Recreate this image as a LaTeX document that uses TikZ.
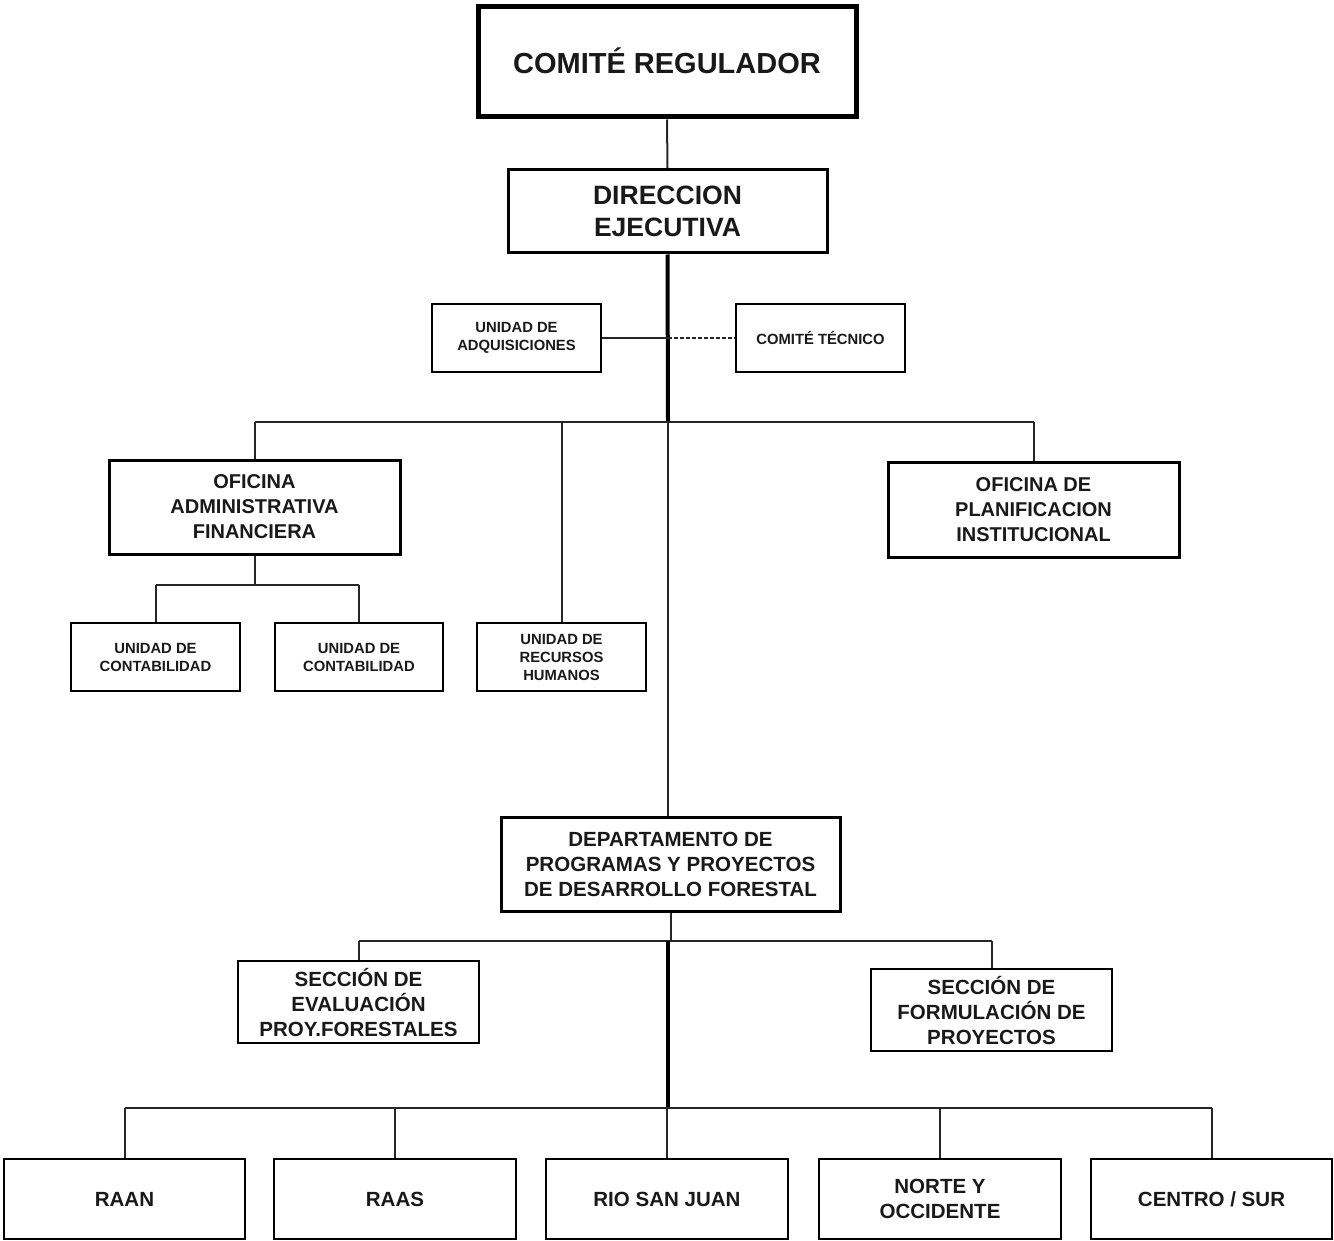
\documentclass[tikz,border=0pt]{standalone}
\usepackage{fontspec}
\setmainfont{Liberation Sans}
\begin{document}
\begin{tikzpicture}[x=0.75pt,y=-0.75pt,
  box/.style={draw=black, rectangle, inner sep=0pt, align=center, font=\bfseries, text=black!90},
  thinb/.style={box, line width=1.5pt},
  medb/.style={box, line width=2.25pt},
  bigb/.style={box, line width=3.75pt},
  conn/.style={draw=black!85, line width=1.5pt},
  thickconn/.style={draw=black, line width=3pt},
  fbig/.style={font=\bfseries\fontsize{21.75}{26}\selectfont},
  fdir/.style={font=\bfseries\fontsize{19.9}{24}\selectfont},
  fmid/.style={font=\bfseries\fontsize{15}{18.75}\selectfont},
  fdep/.style={font=\bfseries\fontsize{15.4}{18.75}\selectfont},
  fsmall/.style={font=\bfseries\fontsize{11.1}{13.5}\selectfont},
  smallbox/.style={thinb, fsmall, minimum width=126.75pt, minimum height=51pt},
  botbox/.style={thinb, fdep, minimum width=181.1pt, minimum height=60pt}
]
\useasboundingbox (0,0) rectangle (1334,1241);

% boxes
\node[bigb, fbig, minimum width=283.5pt, minimum height=82.5pt] (creg) at (667,62) {\raisebox{2.5pt}{COMITÉ REGULADOR}};
\node[medb, fdir, minimum width=239.25pt, minimum height=62.25pt] (dir) at (667.5,211.5) {DIRECCION\\EJECUTIVA};
\node[smallbox] (adq) at (516.5,338) {UNIDAD DE\\ADQUISICIONES};
\node[smallbox] (ctec) at (820.5,338) {COMITÉ TÉCNICO};
\node[medb, fmid, minimum width=218.25pt, minimum height=70.5pt] (oaf) at (254.5,507) {OFICINA\\ADMINISTRATIVA\\FINANCIERA};
\node[medb, fmid, minimum width=218.25pt, minimum height=71.25pt] (planif) at (1033.5,509.5) {OFICINA DE\\PLANIFICACION\\INSTITUCIONAL};
\node[smallbox] (cont1) at (155.5,657) {UNIDAD DE\\CONTABILIDAD};
\node[smallbox, minimum width=126pt] (cont2) at (359,657) {UNIDAD DE\\CONTABILIDAD};
\node[smallbox] (rrhh) at (561.5,657) {UNIDAD DE\\RECURSOS\\HUMANOS};
\node[medb, fdep, minimum width=254.25pt, minimum height=70.5pt] (dept) at (670.5,864) {DEPARTAMENTO DE\\PROGRAMAS Y PROYECTOS\\DE DESARROLLO FORESTAL};
\node[thinb, fdep, minimum width=180.75pt, minimum height=61.5pt] (seval) at (358.5,1002) {SECCIÓN DE\\EVALUACIÓN\\PROY.FORESTALES};
\node[thinb, fdep, minimum width=180.75pt, minimum height=61.5pt] (sform) at (991.5,1010) {SECCIÓN DE\\FORMULACIÓN DE\\PROYECTOS};
\node[botbox] (raan) at (124.5,1199) {RAAN};
\node[botbox] (raas) at (395,1199) {RAAS};
\node[botbox] (rsj) at (667,1199) {RIO SAN JUAN};
\node[botbox] (norte) at (940,1199) {NORTE Y\\OCCIDENTE};
\node[botbox] (centro) at (1211.5,1199) {CENTRO / SUR};

% junction coordinates
\coordinate (jadq) at (668,338);
\coordinate (jbus) at (668,422);
\coordinate (jbL) at (254.5,422);
\coordinate (jbR) at (1033.5,422);
\coordinate (jrh) at (561.5,422);
\coordinate (joaf) at (254.5,585);
\coordinate (jc1) at (155.5,585);
\coordinate (jc2) at (359,585);
\coordinate (jdep) at (670.5,941);
\coordinate (jsL) at (358.5,941);
\coordinate (jsR) at (991.5,941);
\coordinate (jlow) at (668,941);
\coordinate (jbot) at (667,1108);
\coordinate (jbotL) at (124.5,1108);
\coordinate (jbotR) at (1211.5,1108);

% connectors
\draw[conn] (creg.south) -- (dir.north);
\draw[thickconn] (dir.south) -- (jbus);
\draw[conn] (adq.east) -- (jadq);
\draw[conn, dash pattern=on 3pt off 1.5pt, line width=1.2pt] (jadq) -- (ctec.west);
\draw[conn] (jbL) -- (jbR);
\draw[conn] (jbL) -- (oaf.north);
\draw[conn] (jrh) -- (rrhh.north);
\draw[conn] (jbR) -- (planif.north);
\draw[conn] (jbus) -- (dept.north -| jbus);
\draw[conn] (oaf.south) -- (joaf);
\draw[conn] (jc1) -- (jc2);
\draw[conn] (jc1) -- (cont1.north);
\draw[conn] (jc2) -- (cont2.north);
\draw[conn] (dept.south) -- (jdep);
\draw[conn] (jsL) -- (jsR);
\draw[conn] (jsL) -- (seval.north);
\draw[conn] (jsR) -- (sform.north);
\draw[thickconn] (jlow) -- (jlow |- jbot);
\draw[conn] (jbotL) -- (jbotR);
\draw[conn] (jbotL) -- (raan.north);
\draw[conn] (raas.north |- jbot) -- (raas.north);
\draw[conn] (jbot) -- (rsj.north);
\draw[conn] (norte.north |- jbot) -- (norte.north);
\draw[conn] (jbotR) -- (centro.north);
\end{tikzpicture}
\end{document}
